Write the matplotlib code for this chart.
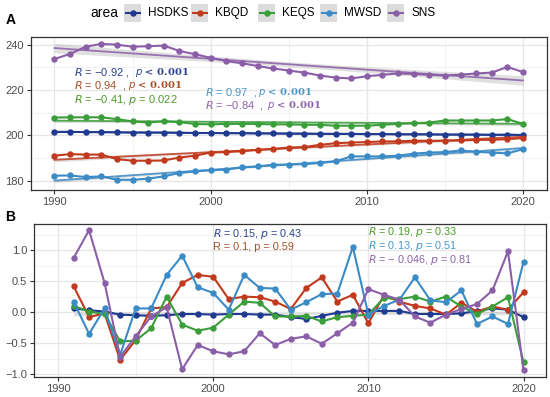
import numpy as np
import matplotlib
matplotlib.use("Agg")
import matplotlib.pyplot as plt
from matplotlib.patches import Rectangle

plt.rcParams["font.family"] = ["Liberation Sans", "DejaVu Sans"]

AREAS = ["HSDKS", "KBQD", "KEQS", "MWSD", "SNS"]
COLORS = ["#1F3A8F", "#C23A1E", "#3A9E3A", "#3B8BC6", "#8B5FA8"]
TEXT_COLORS = ["#2E4390", "#A5502A", "#4C9A2A", "#4B97C8", "#8E63A8"]

YEARS_A = np.arange(1990, 2021)
YEARS_B = np.arange(1991, 2021)

HSDKS_A = [201.6, 201.6, 201.5, 201.5, 201.4, 201.3, 201.3, 201.3, 201.2, 201.1, 201.1,
           201.0, 201.0, 200.9, 200.9, 200.8, 200.8, 200.7, 200.7, 200.7, 200.6, 200.6,
           200.5, 200.5, 200.5, 200.4, 200.4, 200.4, 200.3, 200.4, 200.2]
KBQD_A = [191.1, 191.8, 191.6, 191.6, 189.6, 188.9, 188.9, 189.0, 190.3, 191.1, 192.5,
          192.7, 193.1, 193.7, 194.1, 194.7, 194.9, 195.9, 196.6, 196.9, 197.1, 197.4,
          197.4, 197.7, 197.7, 197.7, 197.8, 198.1, 198.1, 198.4, 198.9]
KEQS_A = [207.9, 208.0, 208.0, 208.0, 207.2, 206.2, 205.7, 206.3, 205.9, 205.1, 204.9,
          205.1, 205.1, 205.1, 204.9, 204.9, 204.7, 204.7, 204.3, 204.3, 204.3, 204.7,
          205.1, 205.4, 205.7, 206.6, 206.6, 206.6, 206.6, 207.2, 205.1]
MWSD_A = [182.3, 182.4, 181.7, 182.0, 180.5, 180.5, 181.0, 182.0, 183.5, 184.2, 184.7,
          185.0, 186.0, 186.4, 187.1, 187.2, 187.4, 187.9, 188.6, 190.8, 190.8, 190.8,
          191.1, 192.0, 192.5, 192.7, 193.4, 192.8, 192.5, 192.1, 194.0]
SNS_A = [233.7, 235.9, 239.1, 240.3, 240.0, 239.1, 239.3, 239.6, 237.2, 235.8, 234.2,
         232.8, 231.8, 230.6, 229.5, 228.6, 227.7, 226.4, 225.5, 225.1, 226.1, 226.7,
         227.3, 227.1, 226.7, 226.4, 226.8, 227.3, 227.7, 230.2, 227.9]

HSDKS_B = [0.06, 0.03, 0.01, -0.04, -0.05, -0.06, -0.05, -0.03, -0.03, -0.04, -0.03,
           -0.03, -0.04, -0.04, -0.08, -0.11, -0.06, -0.01, 0.02, 0.02, 0.02, 0.02,
           -0.03, -0.03, -0.03, -0.02, 0.02, 0.06, 0.04, -0.08]
KBQD_B = [0.42, -0.08, -0.02, -0.77, -0.45, 0.06, 0.08, 0.47, 0.60, 0.57, 0.21,
          0.25, 0.24, 0.17, 0.05, 0.39, 0.56, 0.17, 0.28, -0.18, 0.27, 0.17,
          0.10, 0.06, -0.04, 0.15, 0.01, 0.09, 0.04, 0.32]
KEQS_B = [0.10, 0.01, -0.03, -0.47, -0.46, -0.26, 0.25, -0.20, -0.30, -0.25, -0.04,
          0.17, 0.15, -0.07, -0.07, -0.06, -0.15, -0.08, -0.06, -0.04, 0.23, 0.21,
          0.25, 0.17, 0.25, 0.09, -0.03, 0.09, 0.24, -0.81]
MWSD_B = [0.17, -0.35, 0.06, -0.69, 0.06, 0.06, 0.60, 0.91, 0.40, 0.31, 0.04,
          0.60, 0.39, 0.38, 0.04, 0.16, 0.29, 0.30, 1.05, -0.04, 0.10, 0.20,
          0.56, 0.19, 0.16, 0.35, -0.19, -0.07, -0.19, 0.81]
SNS_B = [0.87, 1.32, 0.47, -0.72, -0.39, -0.07, 0.08, -0.92, -0.53, -0.63, -0.68,
         -0.63, -0.34, -0.53, -0.43, -0.39, -0.51, -0.34, -0.17, 0.37, 0.28, 0.20,
         -0.07, -0.17, -0.04, 0.05, 0.13, 0.35, 0.98, -0.94]

SERIES_A = [HSDKS_A, KBQD_A, KEQS_A, MWSD_A, SNS_A]
SERIES_B = [HSDKS_B, KBQD_B, KEQS_B, MWSD_B, SNS_B]


def fit_band(x, y):
    x = np.asarray(x, float)
    y = np.asarray(y, float)
    b, a = np.polyfit(x, y, 1)
    pred = a + b * x
    n = len(x)
    s = np.sqrt(np.sum((y - pred) ** 2) / (n - 2))
    se = s * np.sqrt(1 / n + (x - x.mean()) ** 2 / np.sum((x - x.mean()) ** 2))
    return pred, 2.05 * se


def style_axes(ax):
    ax.set_facecolor("white")
    ax.grid(which="major", color="#E6E6E6", linewidth=0.9)
    ax.grid(which="minor", color="#F0F0F0", linewidth=0.6)
    ax.set_axisbelow(True)
    for sp in ax.spines.values():
        sp.set_color("#333333")
        sp.set_linewidth(0.9)
    ax.tick_params(which="major", length=3, width=0.8, color="#333333",
                   labelsize=8, labelcolor="#4D4D4D", pad=2)
    ax.tick_params(which="minor", length=0)
    ax.set_xticks([1990, 2000, 2010, 2020])
    ax.set_xticks([1995, 2005, 2015], minor=True)


def draw_data(ax, years, series):
    for vals, color in zip(series, COLORS):
        ax.plot(years, vals, color=color, linewidth=1.5, marker="o", markersize=3.6, zorder=3)


def draw_trend(ax, years, vals, color, line=True):
    pred, ci = fit_band(years, vals)
    ax.fill_between(years, pred - ci, pred + ci, color="#999999", alpha=0.3,
                    linewidth=0, zorder=2)
    if line:
        ax.plot(years, pred, color=color, linewidth=1.3, alpha=0.85, zorder=4)


fig = plt.figure(figsize=(5.5, 3.97), dpi=100)
W, H = 550, 397

ax_a = fig.add_axes([31 / W, 1 - 190 / H, (546.5 - 31) / W, (190 - 36.7) / H])
draw_data(ax_a, YEARS_A, SERIES_A)
for vals, color in zip(SERIES_A, COLORS):
    draw_trend(ax_a, YEARS_A, vals, color)
style_axes(ax_a)
ax_a.set_xlim(1988.5, 2021.5)
ax_a.set_ylim(176, 243.5)
ax_a.set_yticks([180, 200, 220, 240])
ax_a.set_yticks([190, 210, 230], minor=True)

ax_b = fig.add_axes([34 / W, 1 - 376.7 / H, (546 - 34) / W, (376.7 - 224) / H])
draw_trend(ax_b, YEARS_B, HSDKS_B, COLORS[0], line=False)
draw_data(ax_b, YEARS_B, SERIES_B)
style_axes(ax_b)
ax_b.set_xlim(1988.45, 2021.45)
ax_b.set_ylim(-1.04, 1.42)
ax_b.set_yticks([-1.0, -0.5, 0.0, 0.5, 1.0])
ax_b.set_yticks([-0.75, -0.25, 0.25, 0.75, 1.25], minor=True)
ax_b.set_yticklabels(["\u22121.0", "\u22120.5", "0.0", "0.5", "1.0"])

# overlay in pixel coordinates for labels, legend and stats text
ov = fig.add_axes([0, 0, 1, 1], facecolor="none")
ov.set_xlim(0, W)
ov.set_ylim(H, 0)
ov.axis("off")

ov.text(11, 20, "A", fontsize=10, fontweight="bold", ha="center", va="center")
ov.text(10, 217, "B", fontsize=10, fontweight="bold", ha="center", va="center")

ov.text(90, 13, "area", fontsize=10, ha="left", va="center")
key_x = [124, 191, 258, 320, 387]
for kx, name, color in zip(key_x, AREAS, COLORS):
    ov.add_patch(Rectangle((kx, 4), 17, 18, facecolor="#DCDCDC", edgecolor="none"))
    ov.plot([kx + 1.5, kx + 15.5], [13, 13], color=color, linewidth=1.5)
    ov.plot([kx + 8.5], [13], marker="o", markersize=3.6, color=color)
    ov.text(kx + 24, 13, name, fontsize=8.5, ha="left", va="center")

serif_bold = dict(family=["DejaVu Serif"], fontweight="bold", fontsize=7.2)
stats_a = [
    (74, 72.7, "$R$ = \u22120.92 ,", 135, "$p$ < 0.001", TEXT_COLORS[0]),
    (74, 85.7, "$R$ = 0.94  ,", 128, "$p$ < 0.001", TEXT_COLORS[1]),
    (205, 92.3, "$R$ = 0.97  ,", 258, "$p$ < 0.001", TEXT_COLORS[3]),
    (205, 106, "$R$ = \u22120.84  ,", 267, "$p$ < 0.001", TEXT_COLORS[4]),
]
for x1, y, t1, x2, t2, c in stats_a:
    ov.text(x1, y, t1, fontsize=8, color=c, ha="left", va="center")
    ov.text(x2, y, t2, color=c, ha="left", va="center", **serif_bold)
ov.text(74, 100, "$R$ = \u22120.41, $p$ = 0.022", fontsize=8, color=TEXT_COLORS[2],
        ha="left", va="center")

stats_b = [
    (212.7, 234, "$R$ = 0.15, $p$ = 0.43", TEXT_COLORS[0]),
    (212.7, 247.3, "R = 0.1, p = 0.59", TEXT_COLORS[1]),
    (368, 232.3, "$R$ = 0.19, $p$ = 0.33", TEXT_COLORS[2]),
    (368, 246, "$R$ = 0.13, $p$ = 0.51", TEXT_COLORS[3]),
    (368, 260, "$R$ = \u2212 0.046, $p$ = 0.81", TEXT_COLORS[4]),
]
for x, y, t, c in stats_b:
    ov.text(x, y, t, fontsize=7.8, color=c, ha="left", va="center")

fig.savefig("out.png", dpi=100)
